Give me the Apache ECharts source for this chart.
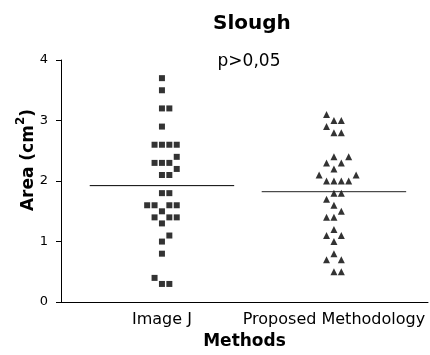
<!DOCTYPE html>
<html>
<head>
<meta charset="utf-8">
<script src="https://cdn.jsdelivr.net/npm/echarts@6/dist/echarts.min.js"></script>
<style>
  html, body { margin: 0; padding: 0; background: #fff; }
  #chart { width: 430px; height: 355px; }
</style>
</head>
<body>
<div id="chart"></div>
<script>
// categories on the x axis
const categories = ["Image J", "Proposed Methodology"];

// slough area (cm2), listed in entry order
const imageJ = [3.7, 3.5, 3.2, 3.2, 2.9, 2.6, 2.6, 2.6, 2.6, 1.5, 1.6, 1.6, 1.6, 1.6,
  1.4, 1.4, 1.4, 1.3, 2.3, 2.3, 2.3, 2.4, 2.2, 2.1, 2.1, 1.8, 1.8, 1.0, 1.1, 0.8,
  0.3, 0.3, 0.4];
const proposed = [3.0, 3.0, 3.1, 2.9, 2.8, 2.8, 2.0, 2.0, 2.0, 2.0, 2.2, 2.1, 2.1,
  2.3, 2.3, 2.4, 2.4, 1.8, 1.8, 1.7, 1.6, 1.5, 1.4, 1.4, 1.2, 1.1, 1.1, 1.0, 0.8,
  0.7, 0.7, 0.5, 0.5];

const yTicks = [0, 1, 2, 3, 4];
const pText = "p>0,05";

const FONT = "DejaVu Sans";

// spread points that would overlap sideways (simple beeswarm)
function swarm(values, center) {
  const slots = [0, 1, -1, 2, -2, 3, -3, 4, -4];
  const step = 0.043;
  const placed = [];
  return values.map((v) => {
    const slot = slots.find(
      (s) => !placed.some((p) => p.s === s && Math.abs(p.v - v) < 0.11)
    );
    placed.push({ v: v, s: slot });
    return [center + slot * step, v];
  });
}

const mean = (arr) => arr.reduce((a, b) => a + b, 0) / arr.length;

// horizontal mean line for a column
function meanLine(values, center) {
  const m = mean(values);
  const half = 0.42;
  return [[center - half, m], [center + half, m]];
}

const chart = echarts.init(document.getElementById("chart"), null, {
  renderer: "canvas",
});

const option = {
  animation: false,
  backgroundColor: "#fff",
  title: {
    text: "Slough",
    left: 208,
    top: 9,
    textStyle: {
      fontFamily: FONT,
      fontWeight: "bold",
      fontSize: 20,
      color: "#000",
    },
  },
  graphic: [
    {
      type: "text",
      x: 249,
      y: 62,
      style: {
        text: pText,
        fontFamily: FONT,
        fontSize: 17,
        fill: "#000",
        align: "center",
        verticalAlign: "middle",
      },
    },
  ],
  grid: {
    left: 61,
    right: 2,
    top: 60,
    bottom: 50,
  },
  xAxis: {
    type: "value",
    min: 0.413,
    max: 2.547,
    name: "Methods",
    nameLocation: "middle",
    nameGap: 30,
    nameTextStyle: {
      fontFamily: FONT,
      fontWeight: "bold",
      fontSize: 17,
      color: "#000",
    },
    axisLine: { show: true, lineStyle: { color: "#000", width: 1 } },
    axisTick: { show: false },
    splitLine: { show: false },
    axisLabel: {
      customValues: [1, 2],
      formatter: (v) => categories[Math.round(v) - 1],
      fontFamily: FONT,
      fontSize: 16,
      color: "#000",
      margin: 10,
    },
  },
  yAxis: {
    type: "value",
    min: yTicks[0],
    max: yTicks[yTicks.length - 1],
    interval: 1,
    name: "{a|Area (cm}{s|2}{a|)}",
    nameLocation: "middle",
    nameGap: 24,
    nameMoveOverlap: false,
    nameTextStyle: {
      padding: [0, 0, 0, 42],
      rich: {
        a: {
          fontFamily: FONT,
          fontWeight: "bold",
          fontSize: 17,
          lineHeight: 22,
          color: "#000",
          verticalAlign: "bottom",
        },
        s: {
          fontFamily: FONT,
          fontWeight: "bold",
          fontSize: 12,
          color: "#000",
          verticalAlign: "top",
        },
      },
    },
    axisLine: { show: true, lineStyle: { color: "#000", width: 1 } },
    axisTick: { show: true, length: 5, lineStyle: { color: "#000" } },
    splitLine: { show: false },
    axisLabel: {
      fontFamily: FONT,
      fontSize: 13,
      color: "#000",
      margin: 13,
    },
  },
  series: [
    {
      name: categories[0],
      type: "scatter",
      symbol: "rect",
      symbolSize: 6,
      itemStyle: { color: "#000" },
      data: swarm(imageJ, 1),
    },
    {
      name: categories[1],
      type: "scatter",
      symbol: "triangle",
      symbolSize: 7,
      itemStyle: { color: "#000" },
      data: swarm(proposed, 2),
    },
    {
      type: "line",
      symbol: "none",
      silent: true,
      lineStyle: { color: "#000", width: 1 },
      data: meanLine(imageJ, 1),
    },
    {
      type: "line",
      symbol: "none",
      silent: true,
      lineStyle: { color: "#222", width: 1 },
      data: meanLine(proposed, 2),
    },
  ],
};

chart.setOption(option);
</script>
</body>
</html>
